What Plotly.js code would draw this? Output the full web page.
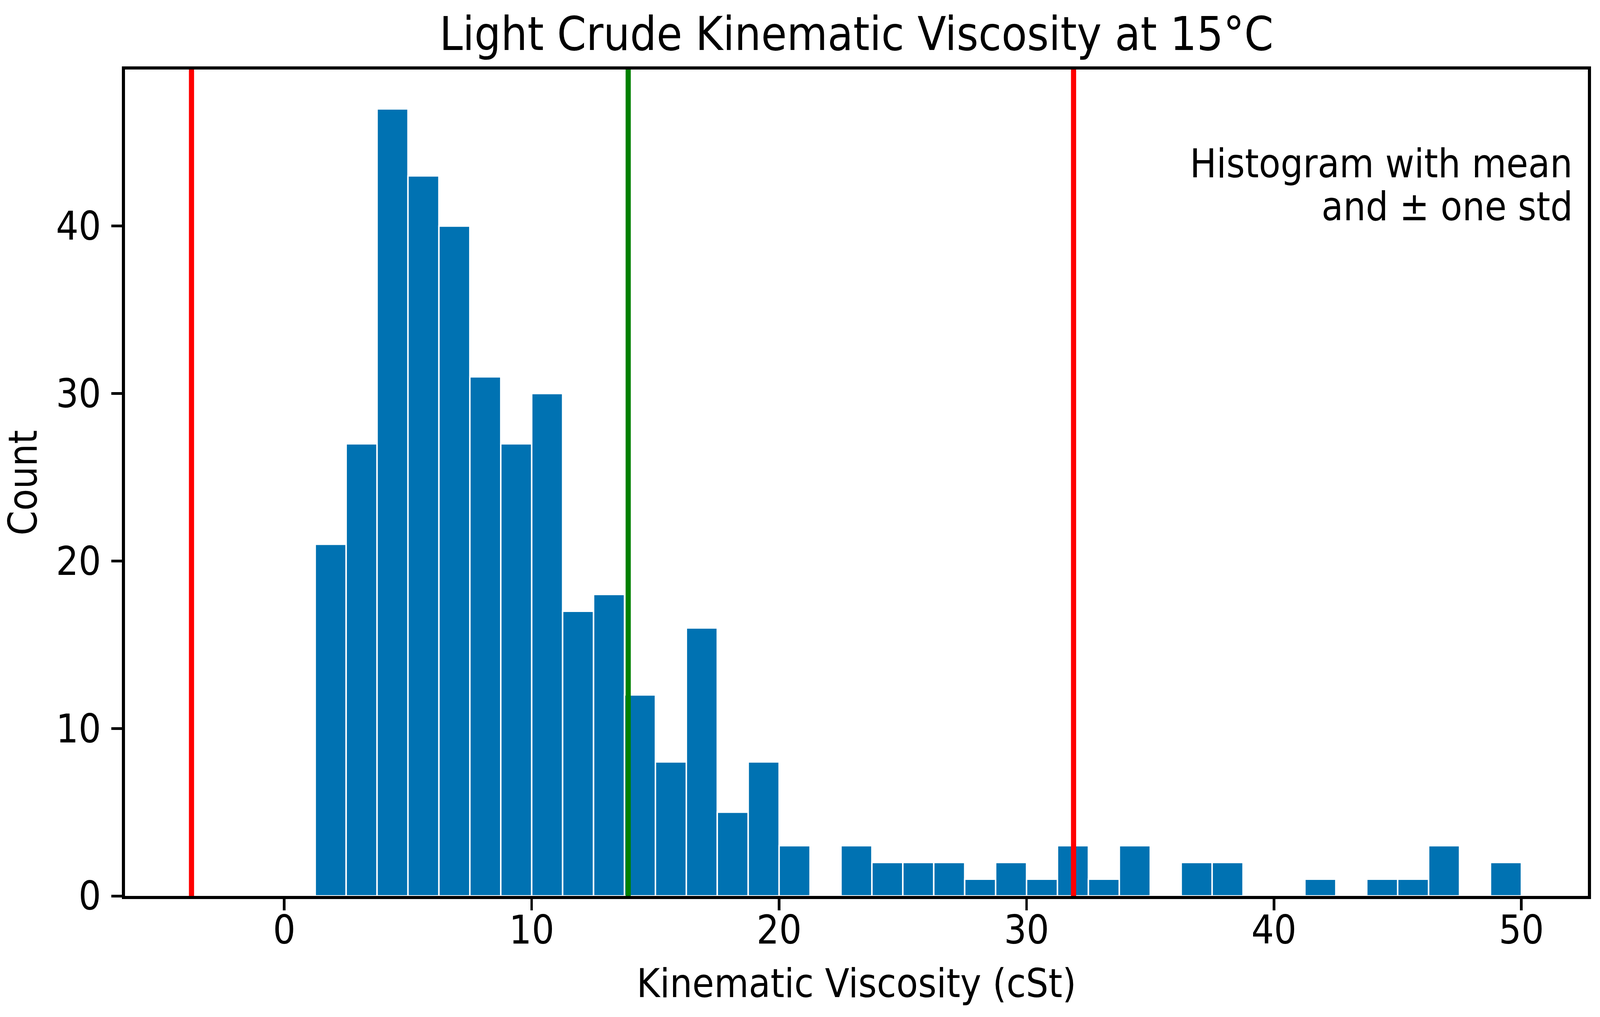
<!DOCTYPE html>
<html>
<head>
<meta charset="utf-8">
<script src="https://cdn.plot.ly/plotly-3.0.1.min.js"></script>
<style>
  html, body { margin: 0; padding: 0; background: #ffffff; overflow: hidden; }
  #chart { position: absolute; left: 0; top: 0; }
</style>
</head>
<body>
<div id="chart"></div>
<script>
// ---- data ----
const binEdges = [1.25, 2.5, 3.75, 5, 6.25, 7.5, 8.75, 10, 11.25, 12.5,
                  13.75, 15, 16.25, 17.5, 18.75, 20, 21.25, 22.5, 23.75, 25,
                  26.25, 27.5, 28.75, 30, 31.25, 32.5, 33.75, 35, 36.25, 37.5,
                  38.75, 40, 41.25, 42.5, 43.75, 45, 46.25, 47.5, 48.75, 50];
const counts = [21, 27, 47, 43, 40, 31, 27, 30, 17, 18,
                12, 8, 16, 5, 8, 3, 0, 3, 2, 2,
                2, 1, 2, 1, 3, 1, 3, 0, 2, 2,
                0, 0, 1, 0, 1, 1, 3, 0, 2];
const meanValue = 13.9;
const stdLower = -3.75;
const stdUpper = 31.9;
const xTicks = [0, 10, 20, 30, 40, 50];
const yTicks = [0, 10, 20, 30, 40];

const titleText = 'Light Crude Kinematic Viscosity at 15°C';
const xTitle = 'Kinematic Viscosity (cSt)';
const yTitle = 'Count';
const noteLines = ['Histogram with mean', 'and ± one std'];

// ---- build ----
const W = window.innerWidth || 4346;
const H = window.innerHeight || 2604;
const sx = W / 4346;          // horizontal scale to fill the viewport
const sy = H / 2604;          // vertical scale
const fx = v => v * sx;
const fy = v => v * sy;

const centers = counts.map((c, i) => (binEdges[i] + binEdges[i + 1]) / 2);
const widths = counts.map((c, i) => binEdges[i + 1] - binEdges[i]);

const FONT = '"DejaVu Sans Condensed", "DejaVu Sans", sans-serif';
const fnt = size => ({ family: FONT, size: fy(size), color: '#000000' });

const xmin = Math.min(stdLower, binEdges[0]);
const xmax = Math.max(stdUpper, binEdges[binEdges.length - 1]);
const xpad = 0.05 * (xmax - xmin);
const ymax = Math.max(...counts) * 1.05;

const trace = {
  type: 'bar',
  x: centers,
  y: counts,
  width: widths,
  marker: { color: '#0072B2', line: { color: '#ffffff', width: fx(4) } },
  hoverinfo: 'x+y',
  showlegend: false
};

function vline(x, color) {
  return { type: 'line', xref: 'x', yref: 'paper', x0: x, x1: x, y0: 0, y1: 1,
           line: { color: color, width: fx(14) }, layer: 'above' };
}

const layout = {
  width: W, height: H,
  margin: { l: fx(340), r: fx(33), t: fy(178), b: fy(310), pad: 0 },
  paper_bgcolor: '#ffffff', plot_bgcolor: '#ffffff',
  font: fnt(101),
  title: { text: titleText, font: fnt(119),
           x: 0.5, xref: 'paper', xanchor: 'center', y: 1 - 86 / 2604, yref: 'container', yanchor: 'middle' },
  xaxis: {
    range: [xmin - xpad, xmax + xpad],
    tickvals: xTicks, ticktext: xTicks.map(String),
    ticks: 'outside', ticklen: fy(29), tickwidth: fx(7), tickcolor: '#000000',
    ticklabelstandoff: Math.round(fy(-36)),
    showline: true, linecolor: '#000000', linewidth: fy(8), mirror: true,
    showgrid: false, zeroline: false,
    tickfont: fnt(101),
    title: { text: xTitle, font: fnt(101), standoff: fy(46) }
  },
  yaxis: {
    range: [0, ymax],
    tickvals: yTicks, ticktext: yTicks.map(String),
    ticks: 'outside', ticklen: fx(29), tickwidth: fy(7), tickcolor: '#000000',
    ticklabelstandoff: Math.round(fx(6)),
    showline: true, linecolor: '#000000', linewidth: fx(8), mirror: true,
    showgrid: false, zeroline: false,
    tickfont: fnt(101),
    title: { text: yTitle, font: fnt(101), standoff: fx(30) }
  },
  shapes: [vline(stdLower, '#ff0000'), vline(meanValue, '#008000'), vline(stdUpper, '#ff0000')],
  annotations: [
    { text: noteLines[0], xref: 'paper', yref: 'paper', x: 0.99, y: 0.886, xanchor: 'right', yanchor: 'middle',
      showarrow: false, font: fnt(101) },
    { text: noteLines[1], xref: 'paper', yref: 'paper', x: 0.99, y: 0.834, xanchor: 'right', yanchor: 'middle',
      showarrow: false, font: fnt(101) }
  ],
  bargap: 0
};

Plotly.newPlot('chart', [trace], layout, { displayModeBar: false, staticPlot: true });
</script>
</body>
</html>
